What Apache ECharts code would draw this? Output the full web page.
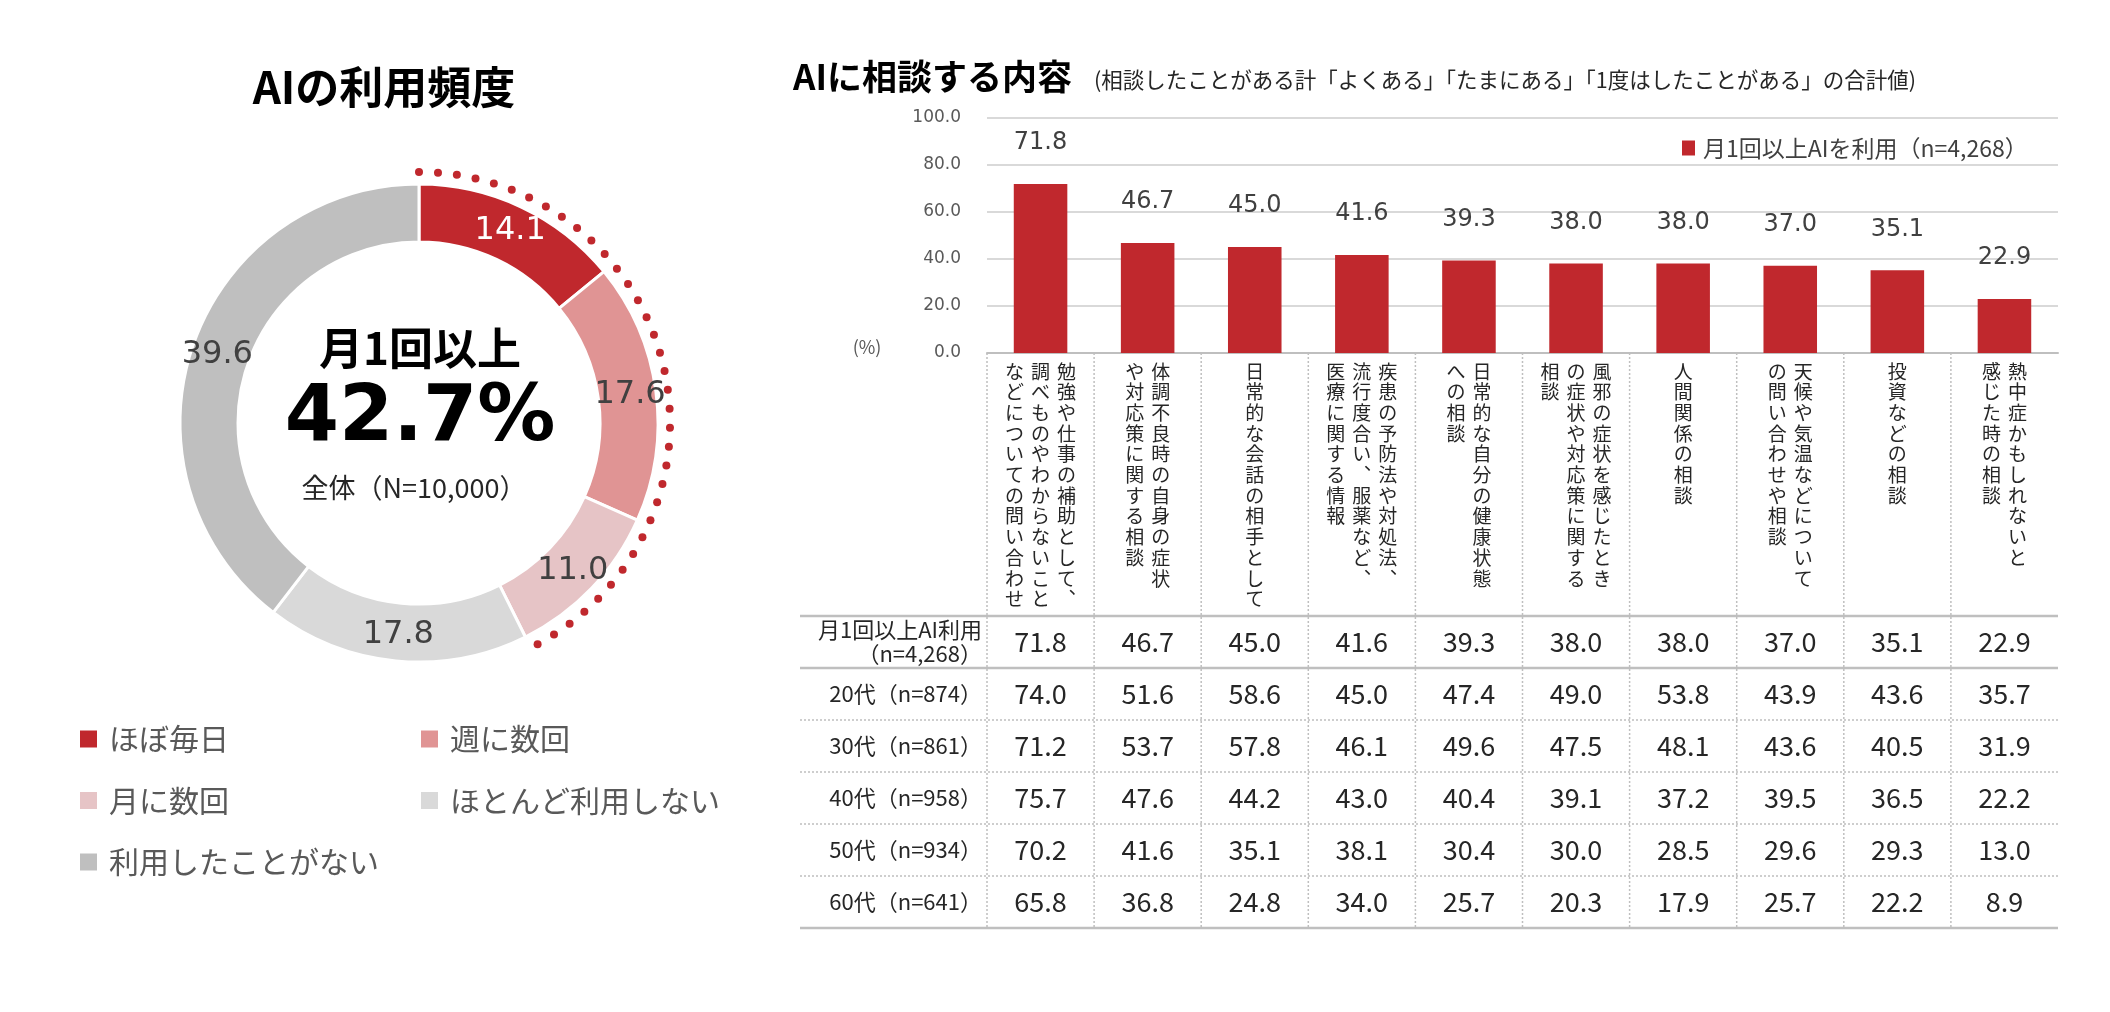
<!DOCTYPE html>
<html>
<head>
<meta charset="utf-8">
<script src="https://cdn.jsdelivr.net/npm/echarts@6/dist/echarts.min.js"></script>
<style>
html,body{margin:0;padding:0;background:#ffffff;}
#chart{width:2110px;height:1012px;}
</style>
</head>
<body>
<div id="chart"></div>
<script>
// ---------------- DATA ----------------
const freqTitle = 'AIの利用頻度';
const freqNames = ['ほぼ毎日', '週に数回', '月に数回', 'ほとんど利用しない', '利用したことがない'];
const freqValues = [14.1, 17.6, 11.0, 17.8, 39.6];
const monthlyLabel = '月1回以上';
const monthlyCount = 3; // first three categories = 月1回以上
const totalLabel = '全体（N=10,000）';

const barTitle = 'AIに相談する内容';
const barSubtitle = '(相談したことがある計「よくある」「たまにある」「1度はしたことがある」の合計値)';
const barSeriesName = '月1回以上AIを利用（n=4,268）';
// columns of vertical text separated by '|', first column is the right-most
const categories = [
  '勉強や仕事の補助として、|調べものやわからないこと|などについての問い合わせ',
  '体調不良時の自身の症状|や対応策に関する相談',
  '日常的な会話の相手として',
  '疾患の予防法や対処法、|流行度合い、服薬など、|医療に関する情報',
  '日常的な自分の健康状態|への相談',
  '風邪の症状を感じたとき|の症状や対応策に関する|相談',
  '人間関係の相談',
  '天候や気温などについて|の問い合わせや相談',
  '投資などの相談',
  '熱中症かもしれないと|感じた時の相談'
];
const barValues = [71.8, 46.7, 45.0, 41.6, 39.3, 38.0, 38.0, 37.0, 35.1, 22.9];
const yTickMin = 0, yTickMax = 100, yTickStep = 20;
const yUnit = '(%)';

const tableRowLabels = ['月1回以上AI利用\n（n=4,268）', '20代（n=874）', '30代（n=861）', '40代（n=958）', '50代（n=934）', '60代（n=641）'];
const age20 = [74.0, 51.6, 58.6, 45.0, 47.4, 49.0, 53.8, 43.9, 43.6, 35.7];
const age30 = [71.2, 53.7, 57.8, 46.1, 49.6, 47.5, 48.1, 43.6, 40.5, 31.9];
const age40 = [75.7, 47.6, 44.2, 43.0, 40.4, 39.1, 37.2, 39.5, 36.5, 22.2];
const age50 = [70.2, 41.6, 35.1, 38.1, 30.4, 30.0, 28.5, 29.6, 29.3, 13.0];
const age60 = [65.8, 36.8, 24.8, 34.0, 25.7, 20.3, 17.9, 25.7, 22.2, 8.9];
const tableRows = [barValues, age20, age30, age40, age50, age60];

// ---------------- STYLE / LAYOUT ----------------
const freqColors = ['#C0282D', '#E09494', '#E6C4C6', '#D9D9D9', '#BFBFBF'];
const RED = '#C0282D';
const JP = "'Noto Sans CJK JP', 'Noto Sans', sans-serif";
const DV = "'DejaVu Sans', sans-serif";
const CX = 419, CY = 423, R_IN = 181, R_OUT = 239, R_DOT = 251, DOT_STEP = 19, DOT_R = 4;
const BAR_LEFT = 987, BAR_RIGHT = 2058, AXIS_Y = 353, TOP_Y = 117.5;
const TABLE_LEFT = 800, TABLE_TOP = 616, ROW_H = 52;
const COL_W = (BAR_RIGHT - BAR_LEFT) / categories.length;
const TABLE_BOTTOM = TABLE_TOP + ROW_H * tableRows.length;
const tXMin = -(BAR_LEFT - TABLE_LEFT) / COL_W;
const tYMin = -(TABLE_TOP - AXIS_Y) / ROW_H;

const monthlySum = freqValues.slice(0, monthlyCount).reduce((a, b) => a + b, 0);

const chart = echarts.init(document.getElementById('chart'), null, {renderer: 'canvas'});

function verticalLabel(v) {
  const cols = v.split('|').map(s => Array.from(s.replace(/、/g, '\uFE11')));
  const n = Math.max.apply(null, cols.map(c => c.length));
  const lines = [];
  for (let i = 0; i < n; i++) {
    let line = '';
    for (let k = cols.length - 1; k >= 0; k--) {
      const ch = cols[k][i] || '\u3000';
      line += '{c|' + ch + '}';
    }
    lines.push(line);
  }
  return lines.join('\n');
}

const cellData = [];
tableRows.forEach((row, r) => row.forEach((v, c) => cellData.push([c + 0.5, r + 0.5, v])));
const rowLabelData = tableRowLabels.map((l, r) => [-0.047, r + 0.5, r]);

function txt(text, x, y, o) {
  return {
    type: 'text', x: x, y: y, silent: true,
    style: Object.assign({
      text: text, fill: '#262626', fontFamily: JP, fontSize: 20,
      align: 'center', verticalAlign: 'middle', textAlign: 'center', textVerticalAlign: 'middle'
    }, o || {})
  };
}

// dotted arc marking the "月1回以上" share, derived from the pie values
const dots = [];
(function () {
  const arcAngle = 2 * Math.PI * monthlySum / 100;
  const step = DOT_STEP / R_DOT;
  const n = Math.floor(arcAngle / step);
  for (let i = 0; i <= n; i++) {
    const a = -Math.PI / 2 + i * step;
    dots.push({type: 'circle', silent: true,
      shape: {cx: CX + R_DOT * Math.cos(a), cy: CY + R_DOT * Math.sin(a), r: DOT_R},
      style: {fill: RED}});
  }
})();

const option = {
  backgroundColor: '#ffffff',
  animation: false,
  grid: [
    {left: BAR_LEFT, top: TOP_Y, width: BAR_RIGHT - BAR_LEFT, height: AXIS_Y - TOP_Y},
    {left: TABLE_LEFT, top: AXIS_Y, width: BAR_RIGHT - TABLE_LEFT, height: TABLE_BOTTOM - AXIS_Y}
  ],
  xAxis: [
    {
      type: 'category', gridIndex: 0, data: categories,
      axisLine: {show: true, lineStyle: {color: '#BFBFBF', width: 2}},
      axisTick: {show: false},
      axisLabel: {
        interval: 0, margin: 8, formatter: verticalLabel,
        rich: {c: {width: 26, align: 'center', fontSize: 19, lineHeight: 20.7, fontFamily: JP, color: '#262626'}}
      },
      splitLine: {show: false}
    },
    {type: 'value', gridIndex: 1, min: tXMin, max: categories.length, show: false}
  ],
  yAxis: [
    {
      type: 'value', gridIndex: 0, min: yTickMin, max: yTickMax, interval: yTickStep,
      axisLine: {show: false}, axisTick: {show: false},
      axisLabel: {margin: 26, fontFamily: DV, fontSize: 17, color: '#595959', formatter: v => v.toFixed(1)},
      splitLine: {lineStyle: {color: '#D9D9D9', width: 2}}
    },
    {type: 'value', gridIndex: 1, min: tYMin, max: tableRows.length, inverse: true, show: false}
  ],
  legend: [
    {
      data: freqNames.filter((n, i) => i % 2 === 0), left: 78, top: 724, orient: 'vertical',
      itemGap: 31.5, icon: 'rect', itemWidth: 19, itemHeight: 19, padding: 0, selectedMode: false,
      textStyle: {fontSize: 30, lineHeight: 30, color: '#595959', fontFamily: JP, padding: [0, 0, 0, 6]}
    },
    {
      data: freqNames.filter((n, i) => i % 2 === 1), left: 419, top: 724, orient: 'vertical',
      itemGap: 31.5, icon: 'rect', itemWidth: 19, itemHeight: 19, padding: 0, selectedMode: false,
      textStyle: {fontSize: 30, lineHeight: 30, color: '#595959', fontFamily: JP, padding: [0, 0, 0, 6]}
    },
    {
      data: [barSeriesName], left: 1682, top: 135, icon: 'rect', itemWidth: 13, itemHeight: 15,
      padding: 0, selectedMode: false,
      textStyle: {fontSize: 23, lineHeight: 26, color: '#404040', fontFamily: JP, padding: [0, 0, 0, 3]}
    }
  ],
  series: [
    {
      type: 'pie', name: freqTitle, center: [CX, CY], radius: [R_IN, R_OUT],
      startAngle: 90, clockwise: true, silent: true, avoidLabelOverlap: false,
      itemStyle: {borderColor: '#ffffff', borderWidth: 3},
      label: {show: true, position: 'inside', formatter: p => p.value.toFixed(1), fontFamily: DV, fontSize: 32, color: '#404040'},
      labelLine: {show: false},
      emphasis: {disabled: true},
      data: freqNames.map((n, i) => ({
        name: n, value: freqValues[i], itemStyle: {color: freqColors[i]},
        label: i === 0 ? {color: '#ffffff'} : {}
      }))
    },
    {
      type: 'bar', name: barSeriesName, xAxisIndex: 0, yAxisIndex: 0, data: barValues,
      barWidth: '50%', itemStyle: {color: RED}, silent: true,
      label: {show: true, position: 'top', distance: 29, formatter: p => p.value.toFixed(1), fontFamily: DV, fontSize: 24, color: '#404040'}
    },
    {
      type: 'custom', xAxisIndex: 1, yAxisIndex: 1, silent: true, z: 1, data: [[0]],
      renderItem: (params, api) => {
        const ch = [];
        const nR = tableRows.length, nC = categories.length;
        for (let c = 0; c < nC; c++) {
          const a = api.coord([c, tYMin]), b = api.coord([c, nR]);
          ch.push({type: 'line', shape: {x1: a[0], y1: a[1], x2: b[0], y2: b[1]},
            style: {stroke: '#BFBFBF', lineWidth: 1.5, lineDash: [2, 2]}});
        }
        for (let r = 0; r <= nR; r++) {
          const a = api.coord([tXMin, r]), b = api.coord([nC, r]);
          const solid = (r === 0 || r === 1 || r === nR);
          ch.push({type: 'line', shape: {x1: a[0], y1: a[1], x2: b[0], y2: b[1]},
            style: solid ? {stroke: '#BFBFBF', lineWidth: 2.5} : {stroke: '#BFBFBF', lineWidth: 1.5, lineDash: [2, 2]}});
        }
        return {type: 'group', children: ch};
      }
    },
    {
      type: 'custom', xAxisIndex: 1, yAxisIndex: 1, silent: true, z: 3, data: cellData,
      renderItem: (params, api) => {
        const p = api.coord([api.value(0), api.value(1)]);
        return {type: 'text', x: p[0], y: p[1], style: {
          text: api.value(2).toFixed(1), fill: '#262626', fontFamily: JP, fontSize: 27,
          align: 'center', verticalAlign: 'middle', textAlign: 'center', textVerticalAlign: 'middle'}};
      }
    },
    {
      type: 'custom', xAxisIndex: 1, yAxisIndex: 1, silent: true, z: 3, data: rowLabelData,
      renderItem: (params, api) => {
        const p = api.coord([api.value(0), api.value(1)]);
        return {type: 'text', x: p[0], y: p[1], style: {
          text: tableRowLabels[api.value(2)], fill: '#262626', fontFamily: JP, fontSize: 22, lineHeight: 24,
          align: 'right', verticalAlign: 'middle', textAlign: 'right', textVerticalAlign: 'middle'}};
      }
    }
  ],
  graphic: dots.concat([
    txt(freqTitle, 384, 87, {fontSize: 44, fontWeight: 'bold', fill: '#000000'}),
    txt(monthlyLabel, 420, 348, {fontSize: 44, fontWeight: 'bold', fill: '#000000'}),
    txt(monthlySum.toFixed(1) + '%', 420, 420, {fontSize: 78, fontWeight: 'bold', fontFamily: DV, fill: '#000000'}),
    txt(totalLabel, 414, 488, {fontSize: 27, fill: '#262626'}),
    txt(barTitle, 793, 77, {fontSize: 35, fontWeight: 'bold', fill: '#000000', align: 'left', textAlign: 'left'}),
    txt(barSubtitle, 1094, 80, {fontSize: 21.5, fill: '#262626', align: 'left', textAlign: 'left'}),
    txt(yUnit, 867, 347, {fontSize: 18, fill: '#595959'})
  ])
};

chart.setOption(option);
</script>
</body>
</html>
